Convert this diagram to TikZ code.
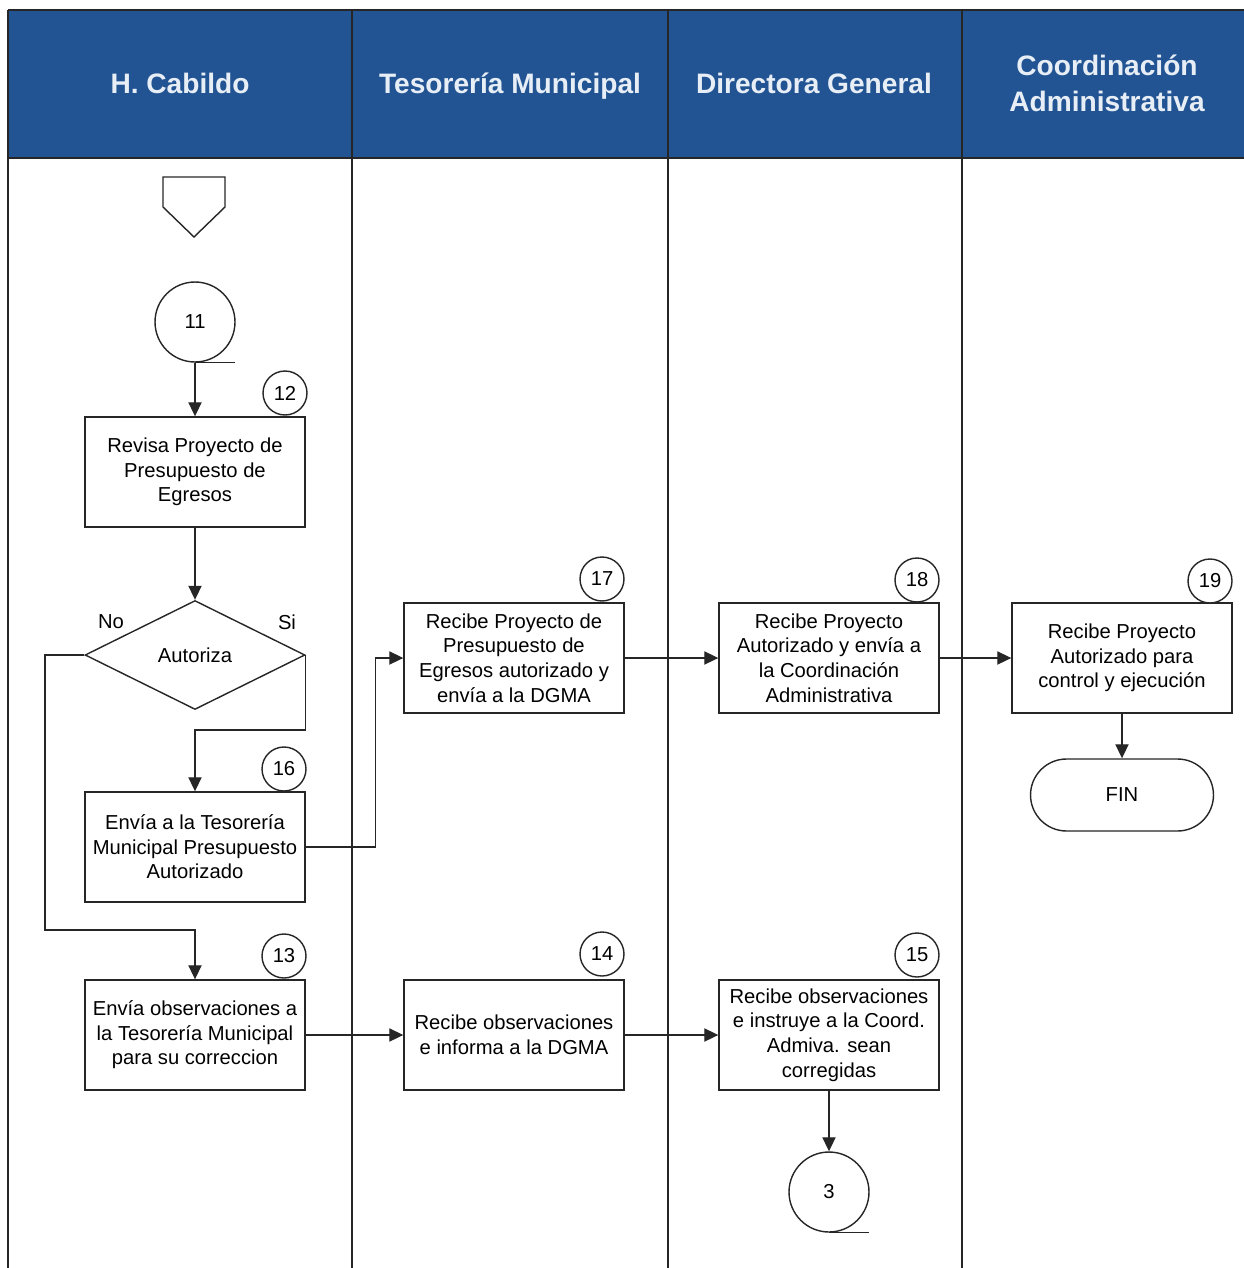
\documentclass[tikz,border=0pt]{standalone}
\usepackage{fontspec}
\setmainfont{Liberation Sans}
\usepackage{tikz}
\usetikzlibrary{shapes.geometric, arrows.meta}
\definecolor{cabecera}{RGB}{34,84,148}
\definecolor{titulo}{RGB}{232,238,245}

\begin{document}
\begin{tikzpicture}[x=0.02cm, y=-0.02cm, >={Triangle[length=8pt, width=7.5pt]}]
		\tikzstyle{proceso} = [rectangle, draw=black!85, line width = 0.8pt, fill=white, minimum width = 4.4cm, minimum height = 2.2cm, inner sep = 1pt, align=center, font=\fontsize{11.5}{14}\selectfont]
		\tikzstyle{numero} = [circle, draw=black!85, line width = 0.8pt, fill=white, minimum size = 0.88cm, inner sep = 0pt, font=\fontsize{11.5}{14}\selectfont]
		\tikzstyle{conector} = [circle, draw=black!85, line width = 0.8pt, fill=white, minimum size = 1.6cm, inner sep = 0pt, font=\fontsize{11.5}{14}\selectfont]
		\tikzstyle{decision} = [diamond, aspect = 2, draw=black!85, line width = 0.8pt, fill=white, minimum width = 4.4cm, minimum height = 2.18cm, inner sep = 0pt, font=\fontsize{11.5}{14}\selectfont]
		\tikzstyle{terminal} = [rectangle, rounded corners = 0.72cm, draw=black!85, line width = 0.8pt, fill=white, minimum width = 3.66cm, minimum height = 1.44cm, font=\fontsize{11.5}{14}\selectfont]
		\tikzstyle{carril} = [text=titulo, align=center, font=\fontsize{16}{20.5}\selectfont\bfseries]
		\tikzstyle{linea} = [draw=black!85, line width = 0.8pt]
		\tikzstyle{flecha} = [->, draw=black!85, line width = 0.8pt]
		
		\useasboundingbox (0,0) rectangle (1244,1268);
		
		% encabezado y carriles
		\fill[cabecera] (8,10) rectangle (1244,158);
		\draw[linea] (8,10) -- (1244,10);
		\draw[linea] (8,158) -- (1244,158);
		\foreach \x in {8,352,668,962}
			\draw[linea] (\x,10) -- (\x,1268);
		
		\node[carril] at (180,83) (cabildo) {H. Cabildo};
		\node[carril] at (510,86) (tesoreria) {Tesorería Municipal};
		\node[carril] at (814,83) (directora) {Directora General};
		\node[carril] at (1107,83) (coordinacion) {Coordinación\\Administrativa};
		
		% H. Cabildo
		\draw[linea] (163,177) -- (225,177) -- (225,207) -- (194,237) -- (163,207) -- cycle;
		\node[conector] at (195,322) (c11) {11};
		\draw[linea] (c11.south) -- ++(40,0);
		
		\node[proceso] at (195,472) (p12) {Revisa Proyecto de\\Presupuesto de\\Egresos};
		\node[numero] at (285,393) (n12) {12};
		
		\node[decision] at (195,655) (autoriza) {Autoriza};
		\node at (111,622) (no) {\fontsize{11.5}{14}\selectfont No};
		\node at (287,622) (si) {\fontsize{11.5}{14}\selectfont Si};
		
		\node[proceso] at (195,847) (p16) {Envía a la Tesorería\\Municipal Presupuesto\\Autorizado};
		\node[numero] at (284,769) (n16) {16};
		
		\node[proceso] at (195,1035) (p13) {Envía observaciones a\\la Tesorería Municipal\\para su correccion};
		\node[numero] at (284,956) (n13) {13};
		
		% Tesoreria Municipal
		\node[proceso] at (514,658) (p17) {Recibe Proyecto de\\Presupuesto de\\Egresos autorizado y\\envía a la DGMA};
		\node[numero] at (602,579) (n17) {17};
		
		\node[proceso] at (514,1035) (p14) {Recibe observaciones\\e informa a la DGMA};
		\node[numero] at (602,954) (n14) {14};
		
		% Directora General
		\node[proceso] at (829,658) (p18) {Recibe Proyecto\\Autorizado y envía a\\la Coordinación\\Administrativa};
		\node[numero] at (917,580) (n18) {18};
		
		\node[proceso] at (829,1035) (p15) {Recibe observaciones\\e instruye a la Coord.\\Admiva. sean\\corregidas};
		\node[numero] at (917,955) (n15) {15};
		
		\node[conector] at (829,1192) (c3) {3};
		\draw[linea] (c3.south) -- ++(40,0);
		
		% Coordinacion Administrativa
		\node[proceso] at (1122,658) (p19) {Recibe Proyecto\\Autorizado para\\control y ejecución};
		\node[numero] at (1210,581) (n19) {19};
		
		\node[terminal] at (1122,795) (fin) {FIN};
		
		% flujo
		\draw[flecha] (c11) -- (p12);
		\draw[flecha] (p12) -- (autoriza);
		\draw[flecha] (autoriza.west) -| (45,930) -| (p13.north);
		\draw[flecha] (autoriza.east) -- ++(0,75) -| (p16.north);
		\draw[flecha] (p16.east) -- ++(70,0) |- (p17.west);
		\draw[flecha] (p17) -- (p18);
		\draw[flecha] (p18) -- (p19);
		\draw[flecha] (p19) -- (fin);
		\draw[flecha] (p13) -- (p14);
		\draw[flecha] (p14) -- (p15);
		\draw[flecha] (p15) -- (c3);
\end{tikzpicture}
\end{document}
